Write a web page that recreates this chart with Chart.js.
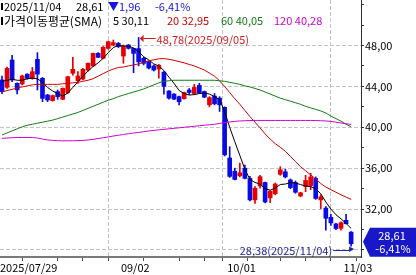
<!DOCTYPE html>
<html><head><meta charset="utf-8">
<script src="https://cdn.jsdelivr.net/npm/chart.js@4.4.1/dist/chart.umd.min.js"></script>
<style>html,body{margin:0;padding:0;background:#fff;overflow:hidden}#wrap{position:relative;width:416px;height:275px}</style>
</head><body><div id="wrap"><canvas id="c" width="416" height="275"></canvas></div>
<script>
const dates = ['2025/07/29','2025/07/30','2025/07/31','2025/08/01','2025/08/04','2025/08/05','2025/08/06','2025/08/07','2025/08/08','2025/08/11',
'2025/08/12','2025/08/13','2025/08/14','2025/08/15','2025/08/18','2025/08/19','2025/08/20','2025/08/21','2025/08/22','2025/08/25',
'2025/08/26','2025/08/27','2025/08/28','2025/08/29','2025/09/02','2025/09/03','2025/09/04','2025/09/05','2025/09/08','2025/09/09',
'2025/09/10','2025/09/11','2025/09/12','2025/09/15','2025/09/16','2025/09/17','2025/09/18','2025/09/19','2025/09/22','2025/09/23',
'2025/09/24','2025/09/25','2025/09/26','2025/09/29','2025/09/30','2025/10/01','2025/10/02','2025/10/03','2025/10/06','2025/10/07',
'2025/10/08','2025/10/09','2025/10/10','2025/10/13','2025/10/14','2025/10/15','2025/10/16','2025/10/17','2025/10/20','2025/10/21',
'2025/10/22','2025/10/23','2025/10/24','2025/10/27','2025/10/28','2025/10/29','2025/10/30','2025/10/31','2025/11/03','2025/11/04'];
const open = [44.63,43.91,46.58,44.30,44.24,45.20,44.79,46.65,44.79,43.16,
42.61,43.49,42.74,43.39,45.28,44.56,44.72,45.60,46.00,47.23,
46.74,47.72,48.05,48.21,46.97,48.05,47.72,47.70,46.75,46.40,
46.00,45.70,45.40,43.55,43.25,43.00,42.80,43.65,43.30,44.10,
43.50,42.20,43.05,42.85,41.95,37.00,35.70,35.25,36.00,35.00,
32.90,34.26,34.60,33.10,33.50,35.40,35.65,34.85,34.60,33.28,
34.20,34.30,35.00,32.90,32.10,31.20,30.55,30.12,30.90,29.75];
const high = [45.00,45.90,47.05,44.35,45.11,45.25,45.86,47.30,44.88,43.22,
43.15,43.65,43.85,45.00,46.84,45.44,45.77,46.30,47.25,47.30,
47.90,48.44,48.54,48.30,48.05,48.10,47.75,48.78,46.85,46.50,
46.10,46.15,45.45,43.60,43.30,43.05,43.45,43.80,44.20,44.30,
43.55,43.00,43.30,43.00,42.00,38.10,36.00,36.50,36.30,35.20,
34.20,35.30,34.65,33.80,34.55,36.15,35.90,34.95,34.75,33.65,
35.30,35.50,35.15,33.40,32.25,31.50,30.60,30.75,31.50,29.80];
const low = [43.30,43.80,44.46,43.26,44.14,44.70,44.70,43.65,42.51,42.51,
42.55,42.74,42.70,43.30,45.11,44.30,44.63,45.50,45.95,46.80,
46.70,47.63,47.98,47.80,46.26,47.65,45.34,46.00,46.10,45.70,
45.50,44.80,43.25,42.75,42.70,42.20,42.75,43.20,43.20,43.30,
42.90,42.00,42.20,41.55,37.20,35.10,34.85,35.15,34.95,32.80,
32.55,34.05,32.60,32.63,33.40,35.30,35.05,34.00,33.55,33.20,
33.70,33.90,32.95,32.05,29.95,30.40,30.00,29.95,30.55,28.38];
const close = [43.49,45.77,44.63,43.65,45.02,44.79,45.44,45.20,42.83,42.67,
43.10,43.00,43.81,44.95,45.67,45.02,45.67,46.26,47.23,46.84,
47.82,48.37,48.28,47.89,47.95,47.72,47.23,46.40,46.26,45.80,
45.60,46.05,44.00,42.85,42.75,42.50,43.40,43.40,43.90,43.35,
42.95,42.90,42.30,42.20,37.30,35.20,34.90,35.55,35.00,32.90,
34.05,35.17,32.70,33.75,34.45,35.85,35.15,34.10,33.65,33.60,
34.80,35.15,33.05,33.20,31.10,30.65,30.10,30.67,30.57,28.61];
const sma5 = [44.5,44.6,44.7,44.6,44.6,44.75,44.8,44.75,44.4,43.9,
43.55,43.3,43.05,43.35,43.9,44.45,45.0,45.5,45.95,46.3,
46.75,47.3,47.8,48.0,47.95,47.95,47.75,47.4,46.9,46.6,
46.2,46.0,45.55,44.9,44.3,43.6,43.3,43.15,43.2,43.3,
43.35,43.25,43.0,42.7,41.55,40.0,38.6,37.25,35.9,34.9,
34.6,34.45,34.0,33.85,34.05,34.4,34.45,34.6,34.55,34.4,
34.25,34.2,34.0,33.5,32.7,32.0,31.45,31.05,30.6,30.11];
const sma20 = [43.45,43.6,43.7,43.85,43.95,44.05,44.15,44.2,44.2,44.2,
44.2,44.2,44.25,44.3,44.35,44.4,44.5,44.6,44.75,45.0,
45.25,45.5,45.7,45.85,45.9,46.0,46.1,46.2,46.35,46.5,
46.6,46.7,46.72,46.65,46.55,46.42,46.3,46.15,46.0,45.8,
45.6,45.3,45.0,44.55,44.0,43.4,42.8,42.25,41.65,41.05,
40.5,39.95,39.35,38.85,38.4,38.05,37.65,37.15,36.65,36.15,
35.75,35.35,34.95,34.5,34.15,33.9,33.65,33.4,33.17,32.95];
const sma60 = [39.25,39.45,39.65,39.85,40.05,40.2,40.3,40.4,40.5,40.6,
40.7,40.85,41.0,41.15,41.3,41.45,41.65,41.85,42.05,42.25,
42.45,42.65,42.8,43.0,43.15,43.3,43.45,43.6,43.75,43.95,
44.15,44.35,44.5,44.55,44.6,44.6,44.6,44.6,44.6,44.6,
44.6,44.6,44.6,44.55,44.5,44.4,44.3,44.2,44.05,43.95,
43.8,43.65,43.45,43.25,43.05,42.85,42.7,42.55,42.4,42.25,
42.05,41.9,41.75,41.6,41.4,41.1,40.85,40.6,40.3,40.05];
const sma120 = [38.92,38.95,38.98,39.0,39.0,39.0,39.0,38.95,38.85,38.77,
38.72,38.69,38.68,38.68,38.68,38.7,38.72,38.76,38.82,38.9,
38.98,39.06,39.15,39.22,39.3,39.37,39.44,39.5,39.57,39.64,
39.7,39.75,39.8,39.85,39.9,39.95,40.0,40.05,40.1,40.15,
40.2,40.25,40.3,40.38,40.45,40.52,40.58,40.62,40.64,40.66,
40.67,40.67,40.67,40.67,40.67,40.67,40.67,40.67,40.67,40.67,
40.67,40.67,40.66,40.64,40.62,40.58,40.5,40.42,40.35,40.28];
const maPeriods = [5, 20, 60, 120];
const majorTickDates = ['2025/07/29','2025/09/02','2025/10/01','2025/11/03'];
const majorTickLabels = ['2025/07/29','09/02','10/01','11/03'];
const minorTickDates = ['2025/08/11','2025/08/18','2025/08/25','2025/09/15','2025/09/22','2025/09/29','2025/10/13','2025/10/20','2025/10/27'];
const yTickValues = [28,30,32,34,36,38,40,42,44,46,48,50,52];
const yLabelValues = [32,36,40,44,48];

const FONT = "'Noto Sans CJK KR','Liberation Sans',sans-serif";
const UP = '#e60000', DOWN = '#0a0ae6';
const MA_COLORS = ['#000000', '#d00000', '#157a15', '#d000d0'];
const fmt = v => v.toFixed(2).replace('.', ',');
const X_MIN = -0.395, X_MAX = 70.95;

const idx = dates.map((d, i) => i);
const candleColors = idx.map(i => close[i] >= open[i] ? UP : DOWN);
const majorVals = majorTickDates.map((d, k) => k === 0 ? X_MIN : dates.indexOf(d) - 0.5);
const minorVals = minorTickDates.map(d => dates.indexOf(d) - 0.5);
const labelOf = v => { const k = majorVals.findIndex(m => Math.abs(m - v) < 1e-6); return k >= 0 ? majorTickLabels[k] : ''; };

const annot = {
  id: 'annot',
  afterDraw(chart) {
    const ctx = chart.ctx, xs = chart.scales.x, ys = chart.scales.y;
    const n = close.length - 1;
    ctx.save();
    ctx.textBaseline = 'middle'; ctx.textAlign = 'left';
    const F11 = '11px ' + FONT, F12 = '12px ' + FONT;
    const seg = (t, x, y, col, font, mw) => { ctx.font = font; ctx.fillStyle = col; if (mw) ctx.fillText(t, x, y, mw); else ctx.fillText(t, x, y); };
    // header
    ctx.fillStyle = '#000'; ctx.fillRect(1, 3, 2, 7); ctx.fillRect(1, 17, 2, 8);
    const chg = close[n] - close[n - 1]; const pct = chg / close[n - 1] * 100;
    seg(dates[n], 4, 7, '#000', F11, 62);
    seg(fmt(close[n]), 76, 7, '#000', F11);
    seg((chg < 0 ? '▼' : '▲') + fmt(Math.abs(chg)), 108, 7, '#1414e0', F11);
    seg(fmt(pct) + '%', 155, 7, '#1414e0', F11);
    seg('가격이동평균(SMA)', 4, 21, '#000', F12, 98);
    const mas = [sma5, sma20, sma60, sma120]; const mx = [113, 167, 221, 274];
    mas.forEach((a, k) => seg(maPeriods[k] + ' ' + fmt(a[n]), mx[k], 21, k === 0 ? '#000' : MA_COLORS[k], F11));
    // high annotation
    const hi = Math.max(...high), hiI = high.indexOf(hi);
    const hx = xs.getPixelForValue(hiI), hy = Math.round(ys.getPixelForValue(hi)) + 0.5;
    ctx.fillStyle = '#d41c1c'; ctx.strokeStyle = '#d41c1c'; ctx.lineWidth = 1;
    ctx.beginPath(); ctx.moveTo(hx + 1, hy); ctx.lineTo(hx + 5, hy - 3.5); ctx.lineTo(hx + 5, hy + 3.5); ctx.closePath(); ctx.fill();
    ctx.beginPath(); ctx.moveTo(hx + 5, hy); ctx.lineTo(hx + 17, hy); ctx.stroke();
    seg(fmt(hi) + '(' + dates[hiI] + ')', hx + 18, hy + 1, '#d41c1c', F11);
    // low annotation
    const lo = Math.min(...low), loI = low.indexOf(lo);
    const lx = xs.getPixelForValue(loI), ly = Math.round(ys.getPixelForValue(lo)) + 4.5;
    ctx.strokeStyle = '#26269c'; ctx.fillStyle = '#26269c';
    ctx.beginPath(); ctx.moveTo(lx - 18, ly); ctx.lineTo(lx - 1, ly); ctx.stroke();
    ctx.beginPath(); ctx.moveTo(lx + 3, ly - 1.5); ctx.lineTo(lx - 2, ly - 4); ctx.lineTo(lx - 2, ly + 1.5); ctx.closePath(); ctx.fill();
    ctx.textAlign = 'right';
    seg(fmt(lo) + '(' + dates[loI] + ')', lx - 19, ly, '#26269c', F11);
    // price box
    const cy = ys.getPixelForValue(close[n]);
    const bx = xs.right + 2, top = cy - 16, bot = cy + 13;
    ctx.fillStyle = '#1818c8';
    ctx.beginPath(); ctx.moveTo(bx, cy - 2); ctx.lineTo(bx + 7, top); ctx.lineTo(416, top); ctx.lineTo(416, bot); ctx.lineTo(bx + 7, bot); ctx.closePath(); ctx.fill();
    ctx.textAlign = 'center';
    seg(fmt(close[n]), 392, cy - 8, '#ffffff', F11);
    seg(fmt(pct) + '%', 393, cy + 5, '#ffffff', F11);
    ctx.restore();
  }
};

const lineDs = (arr, k) => ({
  type: 'line', label: 'SMA' + maPeriods[k], data: idx.map(i => ({ x: i, y: arr[i] })),
  borderColor: MA_COLORS[k], borderWidth: 1, pointRadius: 0, tension: 0, order: 4 - k
});

new Chart(document.getElementById('c'), {
  type: 'bar',
  data: {
    datasets: [
      lineDs(sma5, 0), lineDs(sma20, 1), lineDs(sma60, 2), lineDs(sma120, 3),
      { type: 'bar', label: 'body', data: idx.map(i => ({ x: i, y: [open[i], close[i]] })), backgroundColor: candleColors,
        barThickness: 4, minBarLength: 1, grouped: false, borderWidth: 0, order: 8 },
      { type: 'bar', label: 'wick', data: idx.map(i => ({ x: i, y: [low[i], high[i]] })), backgroundColor: candleColors,
        barThickness: 1, grouped: false, borderWidth: 0, order: 9 }
    ]
  },
  options: {
    responsive: false, animation: false, devicePixelRatio: 1,
    layout: { padding: 0 },
    plugins: { legend: { display: false }, tooltip: { enabled: false } },
    scales: {
      x: {
        type: 'linear', min: X_MIN, max: X_MAX, offset: false,
        afterBuildTicks: s => { s.ticks = majorVals.concat(minorVals).sort((a, b) => a - b).map(v => ({ value: v })); },
        ticks: { autoSkip: false, maxRotation: 0, align: 'start', padding: 0, color: '#000', font: { family: FONT, size: 11 }, callback: v => labelOf(v) },
        grid: {
          color: c => (c.tick && labelOf(c.tick.value) && c.index > 0) ? '#c4c4c4' : 'rgba(0,0,0,0)',
          tickColor: '#505050', tickLength: 4, tickBorderDash: [], lineWidth: 1
        },
        border: { display: true, color: '#7a7a7a', width: 2, dash: [4, 2] },
        afterFit: s => { s.height = 18; s.paddingLeft = 0; s.paddingRight = 0; }
      },
      y: {
        position: 'right', min: 27.315, max: 52.45,
        afterBuildTicks: s => { s.ticks = yTickValues.map(v => ({ value: v })); },
        ticks: { autoSkip: false, padding: 1, color: '#000', font: { family: FONT, size: 11 }, callback: v => yLabelValues.includes(v) ? fmt(v) : '' },
        grid: {
          color: c => (c.tick && c.tick.value % 4 === 0 && c.tick.value <= 48) ? '#c4c4c4' : 'rgba(0,0,0,0)',
          tickColor: '#303030', tickLength: 3, tickBorderDash: [], lineWidth: 1
        },
        border: { display: true, color: '#303030', width: 1, dash: [4, 2] },
        afterFit: s => { s.width = 55; s.paddingTop = 0; s.paddingBottom = 0; }
      }
    }
  },
  plugins: [annot]
});
</script></body></html>
